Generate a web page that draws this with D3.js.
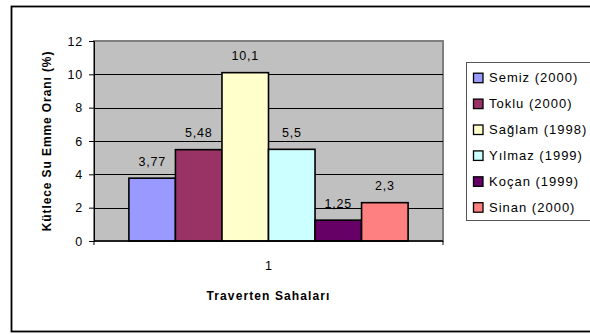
<!DOCTYPE html>
<html><head><meta charset="utf-8">
<script src="https://cdn.jsdelivr.net/npm/d3@7"></script>
<style>body{margin:0;background:#fff}svg{display:block}text{font-family:"Liberation Sans",Arial,sans-serif}</style>
</head><body>
<svg id="c" width="590" height="334"></svg>
<script>
const categories = ["1"];
const seriesNames = ["Semiz (2000)", "Toklu (2000)", "Sağlam (1998)", "Yılmaz (1999)", "Koçan (1999)", "Sinan (2000)"];
const seriesValues = [3.77, 5.48, 10.1, 5.5, 1.25, 2.3];
const valueLabels = ["3,77", "5,48", "10,1", "5,5", "1,25", "2,3"];
const seriesColors = ["#9999FF", "#993366", "#FFFFCC", "#CCFFFF", "#660066", "#FF8080"];
const yTicks = [0, 2, 4, 6, 8, 10, 12];

const svg = d3.select("#c");
const L = 94, R = 443, T = 41, B = 241;

// outer frame
svg.append("rect").attr("x", 11.5).attr("y", 6.5).attr("width", 620).attr("height", 325)
  .attr("fill", "#fff").attr("stroke", "#000").attr("stroke-width", 1.8);

const x0 = d3.scaleBand().domain(categories).range([L, R]).paddingInner(0).paddingOuter(0.125);
const x1 = d3.scaleBand().domain(seriesNames).range([0, x0.bandwidth()]).padding(0);
const y = d3.scaleLinear().domain([0, 12]).range([B, T]);

// plot area
svg.append("rect").attr("x", L).attr("y", T).attr("width", R - L).attr("height", B - T)
  .attr("fill", "#C0C0C0").attr("stroke", "#808080").attr("stroke-width", 2);

// gridlines
svg.append("g").selectAll("line").data(yTicks.filter(d => d > 0 && d < 12)).join("line")
  .attr("x1", L).attr("x2", R).attr("y1", d => Math.round(y(d)) + 0.5).attr("y2", d => Math.round(y(d)) + 0.5)
  .attr("stroke", "#000").attr("stroke-width", 1);

// y axis
const yAxis = svg.append("g").attr("transform", `translate(${L},0)`)
  .call(d3.axisLeft(y).tickValues(yTicks).tickSize(5).tickPadding(6).tickFormat(d3.format("d")));
yAxis.select(".domain").attr("stroke", "#000");
yAxis.selectAll(".tick line").attr("stroke", "#000");
yAxis.selectAll("text").attr("font-size", "12.5px").attr("letter-spacing", "0.8px").attr("fill", "#000");

// bars
const g = svg.append("g");
g.selectAll("rect").data(seriesNames).join("rect")
  .attr("x", (d) => x0("1") + x1(d))
  .attr("y", (d, i) => y(seriesValues[i]))
  .attr("width", x1.bandwidth())
  .attr("height", (d, i) => y(0) - y(seriesValues[i]))
  .attr("fill", (d, i) => seriesColors[i])
  .attr("stroke", "#000").attr("stroke-width", 1.6);

// x axis
const xAxis = svg.append("g").attr("transform", `translate(0,${B})`);
xAxis.append("line").attr("x1", L).attr("x2", R).attr("y1", 0).attr("y2", 0).attr("stroke", "#000").attr("stroke-width", 1.5);
xAxis.selectAll("line.tk").data([L, R]).join("line").attr("class", "tk")
  .attr("x1", d => d).attr("x2", d => d).attr("y1", 0).attr("y2", 4).attr("stroke", "#000");
xAxis.selectAll("text").data(categories).join("text")
  .attr("x", d => x0(d) + x0.bandwidth() / 2).attr("y", 29)
  .attr("text-anchor", "middle").attr("font-size", "12.5px").text(d => d);

// value labels
g.selectAll("text").data(seriesNames).join("text")
  .attr("x", d => x0("1") + x1(d) + x1.bandwidth() / 2)
  .attr("y", (d, i) => y(seriesValues[i]) - 12.5)
  .attr("text-anchor", "middle").attr("font-size", "12.5px").attr("letter-spacing", "0.8px")
  .text((d, i) => valueLabels[i]);

// axis titles
svg.append("text").attr("x", (L + R) / 2).attr("y", 300).attr("text-anchor", "middle")
  .attr("font-size", "12px").attr("font-weight", "bold").attr("letter-spacing", "1.1px")
  .text("Traverten Sahaları");
svg.append("text").attr("transform", `translate(51,${(T + B) / 2}) rotate(-90)`)
  .attr("text-anchor", "middle").attr("font-size", "12px").attr("font-weight", "bold").attr("letter-spacing", "0.9px")
  .text("Kütlece Su Emme Oranı (%)");

// legend
const lg = svg.append("g");
lg.append("rect").attr("x", 466.5).attr("y", 62.5).attr("width", 140).attr("height", 158)
  .attr("fill", "#fff").attr("stroke", "#555").attr("stroke-width", 1);
const items = lg.selectAll("g.it").data(seriesNames).join("g").attr("class", "it")
  .attr("transform", (d, i) => `translate(0,${77.7 + i * 25.9})`);
items.append("rect").attr("x", 473.5).attr("y", -4.5).attr("width", 9.5).attr("height", 9.5)
  .attr("fill", (d, i) => seriesColors[i]).attr("stroke", "#000").attr("stroke-width", 1.3);
items.append("text").attr("x", 489).attr("y", 4.6).attr("font-size", "13px").attr("letter-spacing", "1px")
  .text(d => d);
</script>
</body></html>
